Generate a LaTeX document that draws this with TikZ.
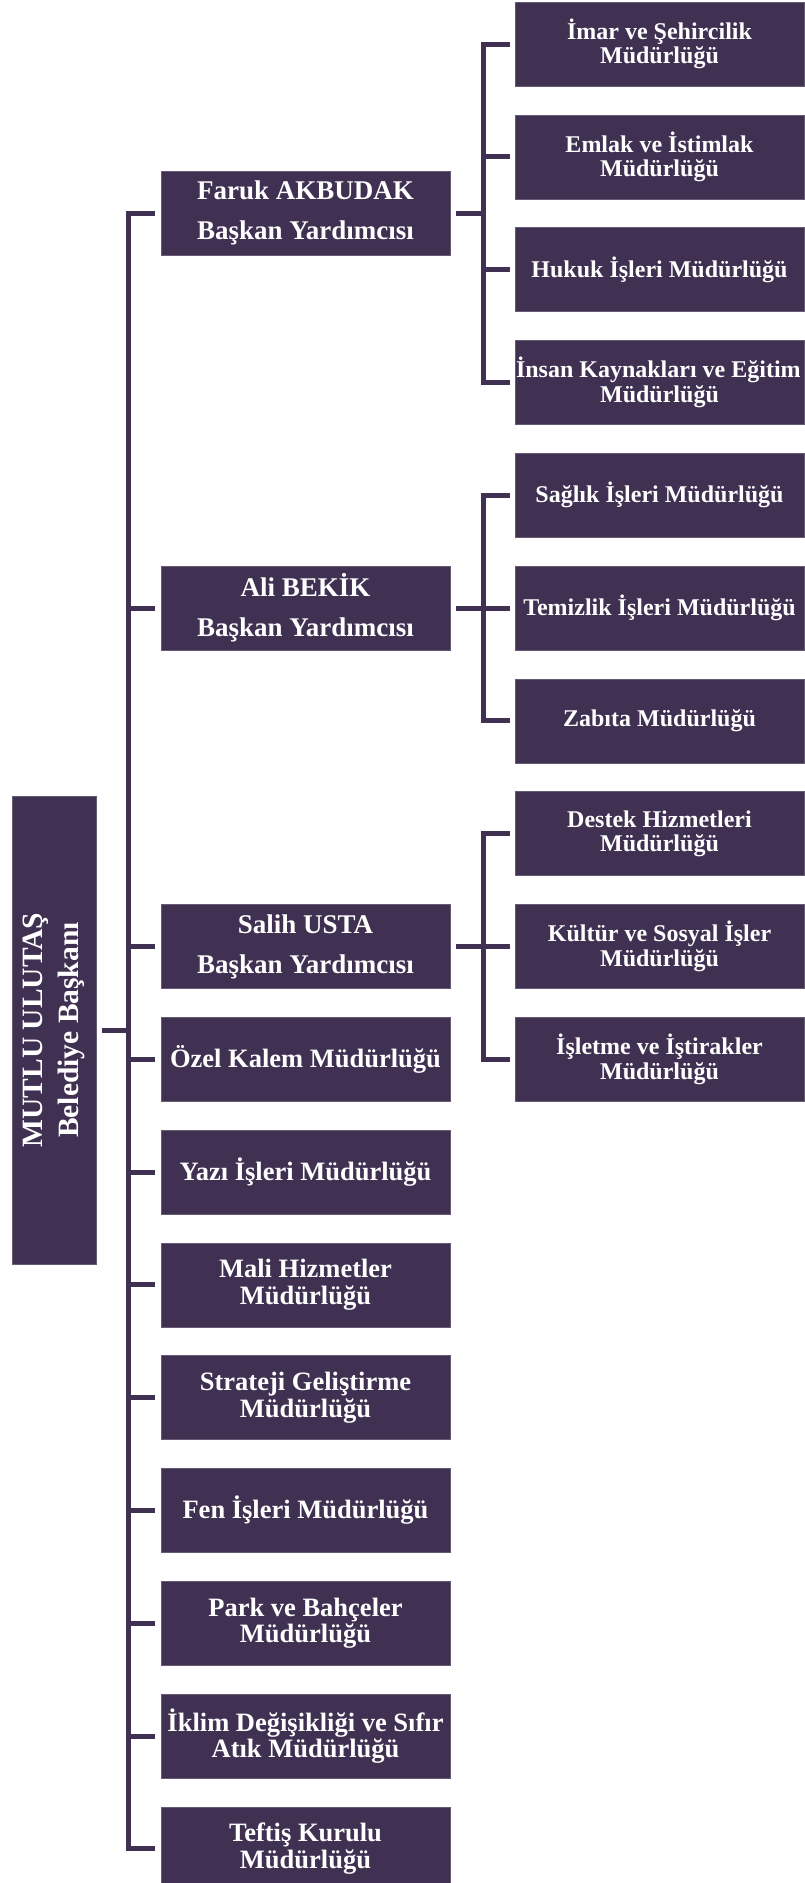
\documentclass[tikz,border=0pt]{standalone}
\usepackage{fontspec}
\setmainfont{Liberation Serif}
\definecolor{mor}{HTML}{403152}
\tikzset{
  kutu/.style={fill=mor,draw=mor!80!white,line width=0.6pt,text=white,
    font=\bfseries\fontsize{24}{24.5}\selectfont,
    minimum width=289pt,minimum height=84pt,inner sep=0pt,align=center},
  orta/.style={kutu,font=\bfseries\fontsize{26.5}{26.5}\selectfont},
  yardimci/.style={kutu,font=\bfseries\fontsize{27}{40}\selectfont},
  hat/.style={mor,line width=5pt},
}
\begin{document}
\begin{tikzpicture}[x=1pt,y=-1pt]
  \useasboundingbox (0,0) rectangle (804,1883);
  % baskan
  \node[kutu,rotate=90,minimum width=468pt,font=\bfseries\fontsize{29.5}{36}\selectfont] (baskan) at (54,1030) {MUTLU ULUTAŞ\\Belediye Başkanı};
  % orta sutun
  \node[yardimci] (faruk) at (305.5,213.2) {Faruk AKBUDAK\\Başkan Yardımcısı};
  \node[yardimci] (ali) at (305.5,608) {Ali BEKİK\\Başkan Yardımcısı};
  \node[yardimci] (salih) at (305.5,946.4) {Salih USTA\\Başkan Yardımcısı};
  \node[orta] (ozel) at (305.5,1059.2) {Özel Kalem Müdürlüğü};
  \node[orta] (yazi) at (305.5,1172) {Yazı İşleri Müdürlüğü};
  \node[orta] (mali) at (305.5,1284.8) {Mali Hizmetler\\Müdürlüğü};
  \node[orta] (strateji) at (305.5,1397.6) {Strateji Geliştirme\\Müdürlüğü};
  \node[orta] (fen) at (305.5,1510.4) {Fen İşleri Müdürlüğü};
  \node[orta] (park) at (305.5,1623.2) {Park ve Bahçeler\\Müdürlüğü};
  \node[orta] (iklim) at (305.5,1736) {İklim Değişikliği ve Sıfır\\Atık Müdürlüğü};
  \node[orta] (teftis) at (305.5,1848.8) {Teftiş Kurulu\\Müdürlüğü};
  % sag sutun
  \node[kutu] (imar) at (659.5,44) {İmar ve Şehircilik\\Müdürlüğü};
  \node[kutu] (emlak) at (659.5,156.8) {Emlak ve İstimlak\\Müdürlüğü};
  \node[kutu] (hukuk) at (659.5,269.6) {Hukuk İşleri Müdürlüğü};
  \node[kutu] (insan) at (659.5,382.4) {\makebox[289pt][l]{\hspace{1pt}İnsan Kaynakları ve Eğitim}\\Müdürlüğü};
  \node[kutu] (saglik) at (659.5,495.2) {Sağlık İşleri Müdürlüğü};
  \node[kutu] (temizlik) at (659.5,608) {Temizlik İşleri Müdürlüğü};
  \node[kutu] (zabita) at (659.5,720.8) {Zabıta Müdürlüğü};
  \node[kutu] (destek) at (659.5,833.6) {Destek Hizmetleri\\Müdürlüğü};
  \node[kutu] (kultur) at (659.5,946.4) {Kültür ve Sosyal İşler\\Müdürlüğü};
  \node[kutu] (isletme) at (659.5,1059.2) {İşletme ve İştirakler\\Müdürlüğü};
  % baglantilar
  \coordinate (govde) at (128,1030);
  \draw[hat] ([xshift=6pt]baskan.south) -- (govde);
  \foreach \n in {faruk,ali,salih,ozel,yazi,mali,strateji,fen,park,iklim,teftis}
    \draw[hat] (govde) |- ([xshift=-6pt]\n.west);
  \foreach \ust/\altlar in {faruk/{imar,emlak,hukuk,insan},ali/{saglik,temizlik,zabita},salih/{destek,kultur,isletme}}{
    \coordinate (\ust-k) at ([xshift=33pt]\ust.east);
    \draw[hat] ([xshift=6pt]\ust.east) -- (\ust-k);
    \foreach \c in \altlar
      \draw[hat] (\ust-k) |- ([xshift=-5pt]\c.west);
  }
\end{tikzpicture}
\end{document}
